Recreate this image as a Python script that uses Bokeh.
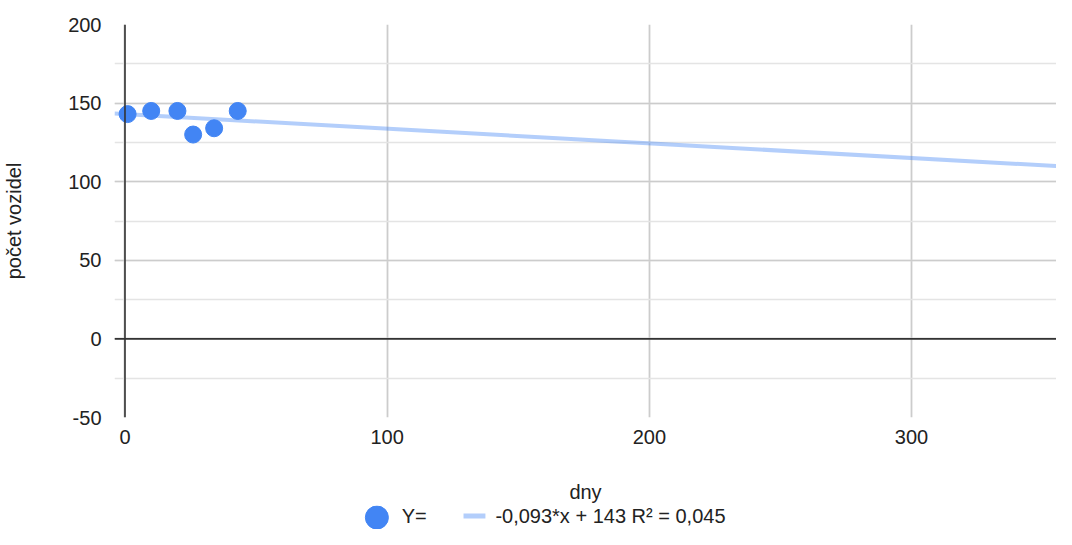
from bokeh.plotting import figure
from bokeh.models import (Range1d, SingleIntervalTicker, Span, ColumnDataSource,
                          CustomJSTickFormatter)
from bokeh.layouts import column
from bokeh.core.properties import value
from bokeh.embed import file_html
from bokeh.resources import INLINE

# data
days = [1, 10, 20, 26, 34, 43]
vehicles = [143, 145, 145, 130, 134, 145]
trend_slope = -0.093
trend_intercept = 143
legend_point = "Y="
legend_trend = "-0,093*x + 143 R² = 0,045"
x_label = "dny"
y_label = "počet vozidel"

FONT = "Liberation Sans"
BLUE = "#4285F4"

x_start, x_end = -4.0, 355.3
BORDER_LEFT = 110
W = 1056

p = figure(width=W, height=505, output_backend="svg", toolbar_location=None,
           x_range=Range1d(x_start, x_end), y_range=Range1d(-50, 200),
           min_border_left=BORDER_LEFT, min_border_right=0, min_border_top=24,
           min_border_bottom=88)
p.outline_line_color = None
p.background_fill_color = "white"

# grids
p.xgrid.ticker = SingleIntervalTicker(interval=100, num_minor_ticks=0)
p.ygrid.ticker = SingleIntervalTicker(interval=50, num_minor_ticks=2)
p.xgrid.grid_line_color = "#cccccc"
p.xgrid.grid_line_width = 1.8
p.ygrid.grid_line_color = "#cccccc"
p.ygrid.grid_line_width = 1.5
p.ygrid.minor_grid_line_color = "#e4e4e4"
p.ygrid.minor_grid_line_width = 1.5

# axes
p.xaxis.ticker = SingleIntervalTicker(interval=100, num_minor_ticks=0)
p.yaxis.ticker = SingleIntervalTicker(interval=50, num_minor_ticks=2)
for ax in (p.xaxis, p.yaxis):
    ax.axis_line_color = None
    ax.major_tick_line_color = None
    ax.minor_tick_line_color = None
    ax.major_tick_out = 0
    ax.minor_tick_out = 0
    ax.major_tick_in = 0
    ax.minor_tick_in = 0
    ax.formatter = CustomJSTickFormatter(code="return tick.toString();")
    ax.major_label_text_font = FONT
    ax.major_label_text_font_size = "20px"
    ax.major_label_text_color = "#222222"
    ax.axis_label_text_font = FONT
    ax.axis_label_text_font_size = "20px"
    ax.axis_label_text_font_style = "normal"
    ax.axis_label_text_color = "#222222"
p.xaxis.axis_label = x_label
p.yaxis.axis_label = y_label
p.xaxis.major_label_standoff = 12
p.xaxis.axis_label_standoff = 34
p.yaxis.major_label_standoff = 13
p.yaxis.axis_label_standoff = 40

# baselines
p.add_layout(Span(location=0, dimension="height", line_color="#333333", line_width=1.6))
p.add_layout(Span(location=0, dimension="width", line_color="#333333", line_width=1.6))

# trendline
tx = [x_start, x_end]
ty = [trend_slope * v + trend_intercept for v in tx]
p.line(tx, ty, line_color=BLUE, line_alpha=0.4, line_width=4)

# points
src = ColumnDataSource(dict(x=days, y=vehicles))
p.scatter("x", "y", source=src, size=17, fill_color=BLUE, line_color=BLUE)

# legend strip (coordinates in pixels from the plot area's left edge)
LH = 24
lg = figure(width=W, height=LH, output_backend="svg", toolbar_location=None,
            x_range=Range1d(0, W - BORDER_LEFT), y_range=Range1d(0, LH),
            min_border_left=BORDER_LEFT, min_border_right=0,
            min_border_top=0, min_border_bottom=0)
lg.outline_line_color = None
lg.axis.visible = False
lg.grid.visible = False
lg.scatter([263.5], [12], size=23, fill_color=BLUE, line_color=BLUE)
lg.text([288.5], [13.5], text=[legend_point], text_font=value(FONT), text_font_size="20px",
        text_baseline="middle", text_color="#222222")
lg.line([350.5, 372.5], [13.5, 13.5], line_color=BLUE, line_alpha=0.4, line_width=5)
lg.text([382.5], [13.5], text=[legend_trend], text_font=value(FONT), text_font_size="20px",
        text_baseline="middle", text_color="#222222")

layout = column(p, lg, spacing=0)
open("out.html", "w").write(file_html(layout, INLINE))
